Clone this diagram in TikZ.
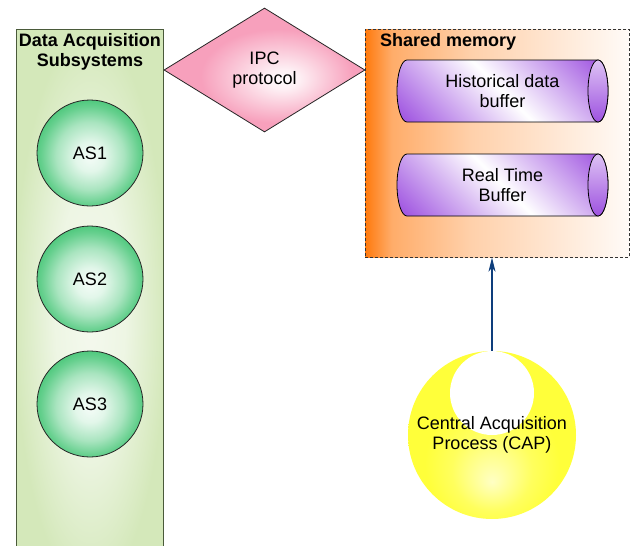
\documentclass[tikz,border=0pt]{standalone}
\usepackage{fontspec}
\setmainfont{Liberation Sans}
\usetikzlibrary{shapes.geometric,arrows.meta}

\definecolor{panelgreen}{HTML}{D4E8BA}
\definecolor{panellight}{HTML}{F4F9EE}
\definecolor{paneledge}{HTML}{4A5A3A}
\definecolor{ballgreen}{HTML}{40C472}
\definecolor{balllight}{HTML}{F4FCF7}
\definecolor{ipcpink}{HTML}{F7A0BC}
\definecolor{memorange}{HTML}{FF7A0E}
\definecolor{cylpurple}{HTML}{9E52E0}
\definecolor{capyellow}{HTML}{FFFF3A}
\definecolor{arrowblue}{HTML}{0E3E7C}

% pale centre spreading out to a soft green rim
\pgfdeclareradialshading{panelshade}{\pgfpoint{0bp}{-2bp}}{%
  color(0bp)=(panellight); color(12bp)=(panellight!80!panelgreen);
  color(26bp)=(panelgreen); color(50bp)=(panelgreen)}
% glassy green subsystem discs
\pgfdeclareradialshading{ballshade}{\pgfpoint{0bp}{-2bp}}{%
  color(0bp)=(balllight); color(7bp)=(balllight!90!ballgreen);
  color(16bp)=(ballgreen!45!white); color(23bp)=(ballgreen!80!white);
  color(28bp)=(ballgreen); color(50bp)=(ballgreen)}
% pink rhombus, whitish just right of and below the middle
\pgfdeclareradialshading{ipcshade}{\pgfpoint{5bp}{-4bp}}{%
  color(0bp)=(ipcpink!5!white); color(4bp)=(ipcpink!16!white);
  color(19bp)=(ipcpink); color(50bp)=(ipcpink)}
% orange fading to white, left to right
\pgfdeclarehorizontalshading{memshade}{100bp}{%
  color(0bp)=(memorange); color(25bp)=(memorange);
  color(30bp)=(memorange!62!white); color(45bp)=(memorange!35!white);
  color(75bp)=(memorange!3!white); color(100bp)=(memorange!3!white)}
% purple corners, white band across the middle
\pgfdeclarehorizontalshading{cylshade}{100bp}{%
  color(0bp)=(cylpurple); color(16bp)=(cylpurple); color(50bp)=(white);
  color(84bp)=(cylpurple); color(100bp)=(cylpurple)}
% yellow disc, lighter towards the bottom
\pgfdeclareradialshading{capshade}{\pgfpoint{0bp}{-14bp}}{%
  color(0bp)=(capyellow!30!white); color(12bp)=(capyellow!82!white);
  color(20bp)=(capyellow); color(50bp)=(capyellow)}

\begin{document}
\begin{tikzpicture}[x=1pt,y=1pt,
  font=\fontsize{18}{20}\selectfont,
  panel/.style={rectangle, draw=paneledge, line width=1.2pt, inner sep=0pt,
    shading=panelshade,
    minimum width=147pt, minimum height=540pt, anchor=north west},
  subsys/.style={circle, draw=black!85, line width=0.8pt, inner sep=0pt,
    minimum size=106pt, shading=ballshade},
  ipc/.style={diamond, draw=black!85, line width=0.8pt, inner sep=0pt,
    minimum width=201pt, minimum height=124pt,
    shading=ipcshade, align=center},
  memory/.style={rectangle, draw=black!80, line width=0.7pt,
    dash pattern=on 3pt off 2pt, shading=memshade, inner sep=0pt,
    minimum width=264pt, minimum height=228pt, anchor=north west},
  cylbody/.style={draw=black, line width=0.8pt, shading=cylshade, shading angle=45},
  cylend/.style={draw=black, line width=0.8pt,
    top color=cylpurple!35!white, bottom color=cylpurple},
  heading/.style={font=\fontsize{18}{20}\selectfont\bfseries, align=center, inner sep=0pt},
  caption/.style={align=center, inner sep=0pt},
  link/.style={arrowblue, line width=1.1pt,
    -{Stealth[length=14pt,width=7pt,inset=4pt]}}
]
\clip (0,0) rectangle (632,-546);
\fill[white] (0,0) rectangle (632,-546);

% data acquisition panel and its subsystems
\node[panel] (das) at (16,-29) {};
\node[heading] (dastitle) at (90,-52) {Data Acquisition\\Subsystems};
\node[subsys] (as1) at (90,-153) {AS1};
\node[subsys] (as2) at (90,-279) {AS2};
\node[subsys] (as3) at (90,-404) {AS3};

% IPC link between the panel and shared memory
\node[ipc] (ipc) at (264.5,-70) {IPC\\protocol};

% shared memory block
\node[memory] (shm) at (365,-29) {};
\node[heading, anchor=base west] (shmtitle) at (380,-46) {Shared memory};

% historical data buffer
\path[cylbody] (598,-60) -- (407,-60)
  arc[start angle=90, end angle=270, x radius=10, y radius=31]
  -- (598,-122)
  arc[start angle=-90, end angle=90, x radius=10, y radius=31] -- cycle;
\path[cylend] (598,-91) ellipse[x radius=10, y radius=31];
\node[caption] (hist) at (502.5,-91) {Historical data\\buffer};

% real time buffer
\path[cylbody] (598,-154) -- (407,-154)
  arc[start angle=90, end angle=270, x radius=10, y radius=31]
  -- (598,-216)
  arc[start angle=-90, end angle=90, x radius=10, y radius=31] -- cycle;
\path[cylend] (598,-185) ellipse[x radius=10, y radius=31];
\node[caption] (rt) at (502.5,-185) {Real Time\\Buffer};

% central acquisition process
\node[circle, minimum size=168pt, inner sep=0pt, shading=capshade] (cap) at (492,-435) {};
\fill[white] (492,-393) circle[radius=42];
\node[caption] (captext) at (492,-435) {Central Acquisition\\Process (CAP)};

\draw[link] (cap.north) -- (cap.north |- shm.south);
\end{tikzpicture}
\end{document}
